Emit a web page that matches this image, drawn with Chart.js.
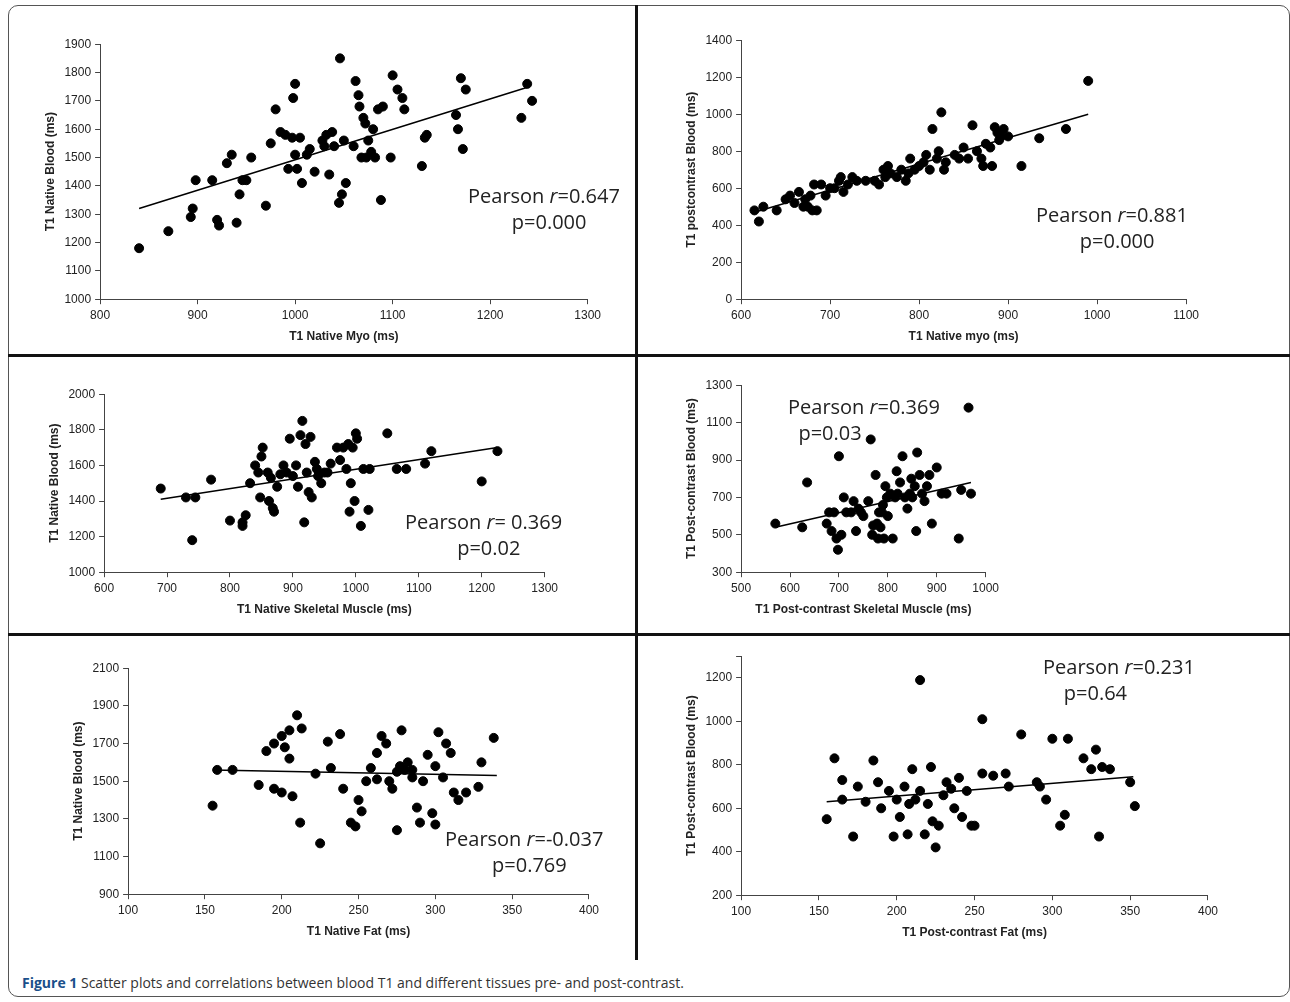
<!DOCTYPE html>
<html><head><meta charset="utf-8">
<script src="https://cdn.jsdelivr.net/npm/chart.js@4"></script>
<style>
body{margin:0;background:#fff;width:1290px;height:1002px;position:relative;overflow:hidden;font-family:"Open Sans","Liberation Sans",sans-serif}
.frame{position:absolute;left:8px;top:5px;width:1280px;height:990px;border:1px solid #555;border-radius:10px}
.c{position:absolute}
.vl{position:absolute;background:#111}
.ann{position:absolute;font-size:20px;color:#222;text-align:center;line-height:26px;white-space:nowrap}
.cap{position:absolute;left:22px;top:973px;font-size:14px;color:#333}
</style></head><body>
<div class="frame"></div>
<div class="vl" style="left:635px;top:5px;width:3px;height:955px"></div>
<div class="vl" style="left:8px;top:354px;width:1282px;height:3px"></div>
<div class="vl" style="left:8px;top:633px;width:1282px;height:3px"></div>
<div class="c" style="left:40px;top:33px;width:565px;height:314px"><canvas id="c1"></canvas></div>
<div class="c" style="left:681px;top:29px;width:522px;height:318px"><canvas id="c2"></canvas></div>
<div class="c" style="left:44px;top:383px;width:518px;height:237px"><canvas id="c3"></canvas></div>
<div class="c" style="left:681px;top:374px;width:322px;height:246px"><canvas id="c4"></canvas></div>
<div class="c" style="left:68px;top:657px;width:535px;height:285px"><canvas id="c5"></canvas></div>
<div class="c" style="left:681px;top:645px;width:541px;height:298px"><canvas id="c6"></canvas></div>
<div class="ann" style="left:468px;top:183px">Pearson <i>r</i>=0.647<br>&nbsp;&nbsp;p=0.000</div>
<div class="ann" style="left:1036px;top:202px">Pearson <i>r</i>=0.881<br>&nbsp;&nbsp;p=0.000</div>
<div class="ann" style="left:405px;top:509px">Pearson <i>r</i>= 0.369<br>&nbsp;&nbsp;p=0.02</div>
<div class="ann" style="left:788px;top:394px;text-align:left">Pearson <i>r</i>=0.369<br>&nbsp;&nbsp;p=0.03</div>
<div class="ann" style="left:445px;top:826px">Pearson <i>r</i>=-0.037<br>&nbsp;&nbsp;p=0.769</div>
<div class="ann" style="left:1043px;top:654px;text-align:left">Pearson <i>r</i>=0.231<br>&nbsp;&nbsp;&nbsp;&nbsp;p=0.64</div>
<div class="cap"><b style="color:#1a4f8a">Figure 1</b> Scatter plots and correlations between blood T1 and different tissues pre- and post-contrast.</div>
<script>
// T1 native myo vs native blood
const p1 = [[840,1180],[870,1240],[893,1290],[895,1320],[898,1420],[915,1420],[920,1280],[922,1260],[930,1480],[935,1510],[940,1270],[943,1370],[946,1420],[950,1420],[955,1500],[970,1330],[975,1550],[980,1670],[985,1590],[990,1580],[993,1460],[997,1570],[998,1710],[1000,1760],[1000,1510],[1002,1460],[1005,1570],[1007,1410],[1012,1510],[1015,1530],[1020,1450],[1028,1560],[1030,1540],[1032,1580],[1035,1440],[1038,1590],[1040,1540],[1045,1340],[1046,1850],[1048,1370],[1050,1560],[1052,1410],[1060,1540],[1062,1770],[1065,1720],[1066,1680],[1068,1500],[1070,1640],[1072,1620],[1073,1500],[1075,1560],[1078,1520],[1080,1600],[1082,1500],[1085,1670],[1088,1350],[1090,1680],[1098,1500],[1100,1790],[1105,1740],[1110,1710],[1112,1670],[1130,1470],[1133,1570],[1135,1580],[1165,1650],[1167,1600],[1170,1780],[1172,1530],[1175,1740],[1232,1640],[1238,1760],[1243,1700]];
const p1Fit = [[840,1320],[1240,1750]];
// T1 native myo vs postcontrast blood
const p2 = [[615,480],[620,420],[625,500],[640,480],[650,540],[655,560],[660,520],[665,580],[670,500],[672,540],[675,500],[678,560],[680,480],[682,620],[685,480],[690,620],[695,560],[700,600],[705,600],[710,640],[712,660],[715,580],[720,620],[725,660],[730,640],[740,640],[750,640],[755,620],[760,700],[762,660],[765,720],[768,680],[775,660],[780,700],[785,640],[788,680],[790,760],[795,700],[800,720],[805,740],[808,780],[812,700],[815,920],[820,760],[822,800],[825,1010],[828,700],[830,740],[840,780],[845,760],[850,820],[855,760],[860,940],[865,800],[870,760],[872,720],[875,840],[880,820],[882,720],[885,930],[888,900],[890,860],[892,880],[895,920],[900,880],[915,720],[935,870],[965,920],[990,1180]];
const p2Fit = [[615,470],[990,1000]];
// native skeletal muscle
const p3 = [[690,1470],[730,1420],[740,1180],[745,1420],[770,1520],[800,1290],[820,1260],[820,1280],[825,1320],[832,1500],[840,1600],[845,1560],[848,1420],[850,1650],[852,1700],[860,1560],[862,1400],[865,1530],[868,1360],[870,1340],[875,1480],[880,1550],[885,1600],[890,1560],[895,1750],[900,1540],[905,1600],[908,1480],[912,1770],[915,1850],[918,1280],[920,1720],[922,1560],[925,1450],[928,1760],[930,1420],[935,1620],[938,1580],[940,1540],[945,1500],[950,1560],[955,1560],[960,1610],[970,1700],[975,1630],[980,1700],[985,1580],[988,1720],[990,1340],[992,1500],[995,1700],[998,1400],[1000,1780],[1002,1750],[1008,1260],[1012,1580],[1020,1350],[1022,1580],[1050,1780],[1065,1580],[1080,1580],[1110,1610],[1120,1680],[1200,1510],[1225,1680]];
const p3Fit = [[690,1410],[1225,1700]];
// post-contrast skeletal muscle
const p4 = [[570,560],[625,540],[635,780],[675,560],[680,620],[685,520],[690,620],[695,480],[698,420],[700,920],[705,500],[710,700],[715,620],[725,620],[730,680],[735,520],[740,640],[745,620],[750,600],[760,680],[765,1010],[768,500],[770,550],[775,820],[778,560],[780,480],[782,620],[785,540],[788,620],[790,660],[792,480],[795,760],[798,700],[800,600],[805,720],[810,480],[815,700],[818,840],[820,720],[825,780],[830,920],[835,700],[840,640],[845,720],[848,800],[850,700],[855,760],[858,520],[860,940],[865,820],[870,720],[875,680],[880,760],[885,820],[890,560],[900,860],[910,720],[920,720],[945,480],[950,740],[965,1180],[970,720]];
const p4Fit = [[570,540],[970,780]];
// native fat
const p5 = [[155,1370],[158,1560],[168,1560],[185,1480],[190,1660],[195,1460],[195,1700],[200,1440],[200,1740],[202,1680],[205,1620],[205,1770],[207,1420],[210,1850],[212,1280],[213,1780],[222,1540],[225,1170],[230,1710],[232,1570],[238,1750],[240,1460],[245,1280],[248,1260],[250,1400],[252,1340],[255,1500],[258,1570],[262,1650],[262,1510],[265,1740],[268,1700],[270,1500],[272,1460],[275,1240],[275,1550],[277,1580],[278,1770],[280,1560],[282,1600],[285,1560],[285,1520],[288,1360],[290,1280],[292,1500],[295,1640],[298,1330],[300,1580],[300,1270],[302,1760],[305,1520],[307,1700],[310,1650],[312,1440],[315,1400],[320,1440],[328,1470],[330,1600],[338,1730]];
const p5Fit = [[155,1560],[340,1530]];
// post-contrast fat
const p6 = [[155,550],[160,830],[165,640],[165,730],[172,470],[175,700],[180,630],[185,820],[188,720],[190,600],[195,680],[198,470],[200,640],[202,560],[205,700],[207,480],[208,620],[210,780],[212,640],[215,1190],[215,680],[218,480],[220,620],[222,790],[223,540],[225,420],[227,520],[230,660],[232,720],[235,690],[237,600],[240,740],[242,560],[245,680],[248,520],[250,520],[255,1010],[255,760],[262,750],[270,760],[272,700],[280,940],[290,720],[292,700],[296,640],[300,920],[305,520],[308,570],[310,920],[320,830],[325,780],[328,870],[330,470],[332,790],[337,780],[350,720],[353,610]];
const p6Fit = [[155,630],[352,745]];

const tickFont = {family:'"Liberation Sans", Arial, sans-serif', size:12};
const titleFont = {family:'"Liberation Sans", Arial, sans-serif', size:12, weight:'bold'};

function axis(min, max, step, title, hideMax) {
    return {
        type:'linear', min:min, max:max,
        ticks:{stepSize:step, color:'#222', font:tickFont, padding:4,
            callback:(v)=> (hideMax && v===max) ? '' : v},
        grid:{drawOnChartArea:false, drawTicks:true, tickLength:5, color:'#444'},
        border:{display:true, color:'#444', width:1},
        title:{display:true, text:title, color:'#222', font:titleFont, padding:3}
    };
}

function plot(id, pts, fit, xa, ya) {
    new Chart(document.getElementById(id), {
        type:'scatter',
        data:{datasets:[
            {data:pts.map(p=>({x:p[0], y:p[1]})), backgroundColor:'#000', borderColor:'#000', pointRadius:4.5},
            {type:'line', data:fit.map(p=>({x:p[0], y:p[1]})), borderColor:'#000', borderWidth:1.5, pointRadius:0, fill:false}
        ]},
        options:{
            responsive:true, maintainAspectRatio:false, animation:false,
            plugins:{legend:{display:false}, tooltip:{enabled:false}},
            scales:{x:xa, y:ya}
        }
    });
}

plot('c1', p1, p1Fit, axis(800,1300,100,'T1 Native Myo (ms)'), axis(1000,1900,100,'T1 Native Blood (ms)'));
plot('c2', p2, p2Fit, axis(600,1100,100,'T1 Native myo (ms)'), axis(0,1400,200,'T1 postcontrast Blood (ms)'));
plot('c3', p3, p3Fit, axis(600,1300,100,'T1 Native Skeletal Muscle (ms)'), axis(1000,2000,200,'T1 Native Blood (ms)'));
plot('c4', p4, p4Fit, axis(500,1000,100,'T1 Post-contrast Skeletal Muscle (ms)'), axis(300,1300,200,'T1 Post-contrast Blood (ms)'));
plot('c5', p5, p5Fit, axis(100,400,50,'T1 Native Fat (ms)'), axis(900,2100,200,'T1 Native Blood (ms)'));
plot('c6', p6, p6Fit, axis(100,400,50,'T1 Post-contrast Fat (ms)'), axis(200,1300,200,'T1 Post-contrast Blood (ms)', true));
</script>
</body></html>
